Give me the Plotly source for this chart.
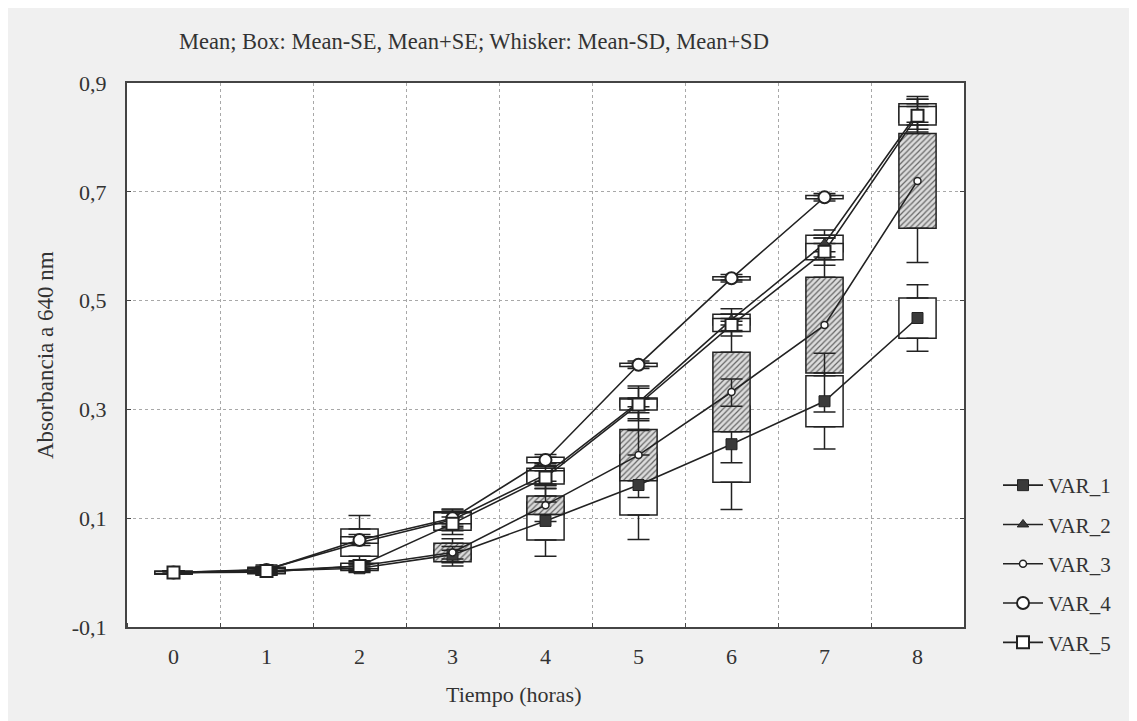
import plotly.graph_objects as go

# ---------------- data ----------------
times = [0, 1, 2, 3, 4, 5, 6, 7, 8]
series_names = ["VAR_1", "VAR_2", "VAR_3", "VAR_4", "VAR_5"]

var1_mean = [0.000, 0.003, 0.008, 0.033, 0.095, 0.161, 0.236, 0.315, 0.468]
var1_se = [0.002, 0.003, 0.004, 0.008, 0.035, 0.055, 0.070, 0.047, 0.037]
var1_sd = [0.003, 0.006, 0.008, 0.015, 0.065, 0.100, 0.120, 0.088, 0.061]

var2_mean = [0.000, 0.006, 0.055, 0.097, 0.180, 0.313, 0.465, 0.605, 0.845]
var2_se = [0.002, 0.004, 0.025, 0.015, 0.012, 0.008, 0.010, 0.015, 0.017]
var2_sd = [0.003, 0.008, 0.050, 0.020, 0.020, 0.030, 0.020, 0.025, 0.030]

var3_mean = [0.000, 0.001, 0.012, 0.037, 0.124, 0.216, 0.332, 0.455, 0.720]
var3_se = [0.002, 0.003, 0.004, 0.017, 0.017, 0.047, 0.073, 0.088, 0.087]
var3_sd = [0.003, 0.006, 0.008, 0.025, 0.030, 0.078, 0.130, 0.160, 0.150]

var4_mean = [0.000, 0.005, 0.060, 0.100, 0.207, 0.382, 0.541, 0.690, None]
var4_se = [0.002, 0.003, 0.006, 0.010, 0.005, 0.003, 0.003, 0.003, None]
var4_sd = [0.003, 0.006, 0.010, 0.015, 0.010, 0.007, 0.007, 0.007, None]

var5_mean = [0.000, 0.003, 0.012, 0.090, 0.175, 0.309, 0.455, 0.590, 0.840]
var5_se = [0.002, 0.004, 0.005, 0.012, 0.012, 0.010, 0.012, 0.015, 0.017]
var5_sd = [0.003, 0.008, 0.010, 0.020, 0.020, 0.030, 0.020, 0.025, 0.030]

x_tick_labels = ["0", "1", "2", "3", "4", "5", "6", "7", "8"]
y_tick_vals = [-0.1, 0.1, 0.3, 0.5, 0.7, 0.9]
y_tick_labels = ["-0,1", "0,1", "0,3", "0,5", "0,7", "0,9"]

title_text = "Mean; Box: Mean-SE, Mean+SE; Whisker: Mean-SD, Mean+SD"
x_title = "Tiempo (horas)"
y_title = "Absorbancia a 640 nm"

# ---------------- styles ----------------
FONT = "Liberation Serif"
TXT = "#333333"
INK = "#222222"

data = {
    "VAR_1": (var1_mean, var1_se, var1_sd),
    "VAR_2": (var2_mean, var2_se, var2_sd),
    "VAR_3": (var3_mean, var3_se, var3_sd),
    "VAR_4": (var4_mean, var4_se, var4_sd),
    "VAR_5": (var5_mean, var5_se, var5_sd),
}

markers = {
    "VAR_1": dict(symbol="square", size=11, color="#3a3a3a", line=dict(color=INK, width=1)),
    "VAR_2": dict(symbol="triangle-up", size=10, color="#3a3a3a", line=dict(color=INK, width=1)),
    "VAR_3": dict(symbol="circle", size=7, color="white", line=dict(color=INK, width=1.5)),
    "VAR_4": dict(symbol="circle", size=12, color="white", line=dict(color=INK, width=2)),
    "VAR_5": dict(symbol="square", size=12, color="white", line=dict(color=INK, width=2)),
}

box_order = ["VAR_1", "VAR_3", "VAR_2", "VAR_5", "VAR_4"]

fig = go.Figure()


def lo(m, s):
    return [None if (a is None) else a - b for a, b in zip(m, s)]


def span(s):
    return [None if b is None else 2 * b for b in s]


# boxes: mean - SE .. mean + SE
for name in box_order:
    m, se, sd = data[name]
    mk = dict(color="white", line=dict(color=INK, width=1.5))
    if name == "VAR_3":
        mk["pattern"] = dict(shape="/", fgcolor="#666666", bgcolor="#dcdcdc",
                             size=4, solidity=0.3, fillmode="replace")
    fig.add_trace(go.Bar(x=times, y=span(se), base=lo(m, se), width=0.4,
                         marker=mk, showlegend=False, hoverinfo="skip"))

# whiskers: from box edge to mean +/- SD
for name in box_order:
    m, se, sd = data[name]
    up_start = [None if a is None else a + b for a, b in zip(m, se)]
    dn_start = [None if a is None else a - b for a, b in zip(m, se)]
    ext = [None if b is None else max(c - b, 0) for b, c in zip(se, sd)]
    zeros = [0 for _ in times]
    fig.add_trace(go.Scatter(x=times, y=up_start, mode="markers",
                             marker=dict(color="rgba(0,0,0,0)", size=1),
                             error_y=dict(type="data", symmetric=False, array=ext,
                                          arrayminus=zeros, width=11, thickness=1.5, color=INK),
                             showlegend=False, hoverinfo="skip"))
    fig.add_trace(go.Scatter(x=times, y=dn_start, mode="markers",
                             marker=dict(color="rgba(0,0,0,0)", size=1),
                             error_y=dict(type="data", symmetric=False, array=zeros,
                                          arrayminus=ext, width=11, thickness=1.5, color=INK),
                             showlegend=False, hoverinfo="skip"))

# means with connecting lines
for name in series_names:
    m, se, sd = data[name]
    fig.add_trace(go.Scatter(x=times, y=m, mode="lines+markers", name=name,
                             line=dict(color=INK, width=1.6), marker=markers[name],
                             legendgroup=name, connectgaps=False))

# ---------------- layout ----------------
# page body has an 8px margin; positions below are figure pixels
W, H = 1137, 721
L, T = 119, 75
pw, ph = 837, 544
R, B = W - L - pw, H - T - ph


def px_x(p):
    return (p - L) / pw


def px_y(p):
    return (T + ph - p) / ph


fig.update_layout(
    width=W, height=H,
    margin=dict(l=L, r=R, t=T, b=B, pad=0),
    paper_bgcolor="#f0f0f0",
    plot_bgcolor="white",
    barmode="overlay",
    font=dict(family=FONT, size=22, color=TXT),
    showlegend=True,
    legend=dict(x=px_x(990), y=px_y(457), xanchor="left", yanchor="top",
                bgcolor="rgba(0,0,0,0)", font=dict(family=FONT, size=21, color=TXT),
                traceorder="grouped", tracegroupgap=9, itemwidth=40),
    annotations=[
        dict(text=title_text, xref="paper", yref="paper", x=px_x(169), y=px_y(34),
             xanchor="left", yanchor="middle", showarrow=False,
             font=dict(family=FONT, size=22.5, color=TXT)),
        dict(text=x_title, xref="paper", yref="paper", x=px_x(505), y=px_y(686),
             xanchor="center", yanchor="middle", showarrow=False,
             font=dict(family=FONT, size=22, color=TXT)),
        dict(text=y_title, xref="paper", yref="paper", x=px_x(37), y=0.5,
             xanchor="center", yanchor="middle", showarrow=False, textangle=-90,
             font=dict(family=FONT, size=23, color=TXT)),
    ],
)

fig.update_xaxes(
    range=[-0.5, 8.5], tickmode="array", tickvals=times, ticktext=x_tick_labels,
    showgrid=False, zeroline=False, ticks="", ticklabelstandoff=9,
    showline=True, linecolor="#444444", linewidth=2, mirror=True,
    tickfont=dict(family=FONT, size=22, color=TXT),
    minor=dict(tick0=0.5, dtick=1, showgrid=True, gridcolor="#a8a8a8", griddash="dot",
               gridwidth=1, ticks="inside", ticklen=4, tickcolor="#444444"),
)
fig.update_yaxes(
    range=[-0.1, 0.9], tickmode="array", tickvals=y_tick_vals, ticktext=y_tick_labels,
    showgrid=True, gridcolor="#a8a8a8", griddash="dot", gridwidth=1, zeroline=False,
    ticks="inside", ticklen=4, tickcolor="#444444", ticklabelstandoff=14,
    showline=True, linecolor="#444444", linewidth=2, mirror="ticks",
    tickfont=dict(family=FONT, size=22, color=TXT),
)

fig.write_html("out.html")
